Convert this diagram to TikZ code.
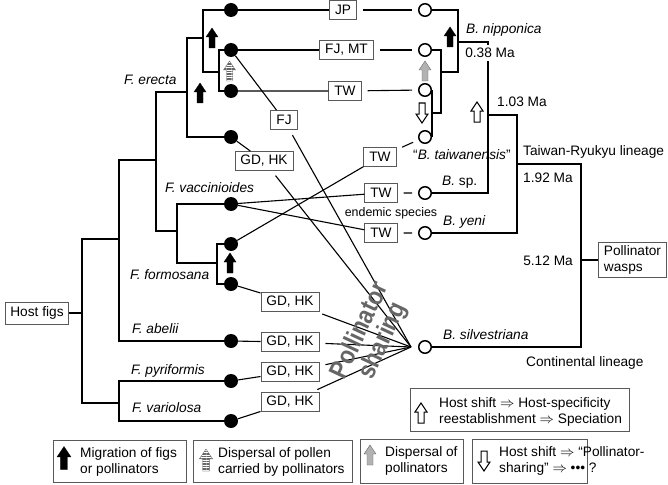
\documentclass[tikz,border=0pt]{standalone}
\usepackage{fontspec}
\setmainfont{Liberation Sans}
\usetikzlibrary{patterns.meta}
\tikzset{
  blockup/.pic={
    \path[pic actions] (0,-10) -- (6,-1) -- (3,-1) -- (3,10) -- (-3,10) -- (-3,-1) -- (-6,-1) -- cycle;
  }
}
\begin{document}
\begin{tikzpicture}[x=1pt, y=-1pt,
    font=\fontsize{13.7}{16.5}\selectfont,
    fig/.style={circle, fill=black, minimum size=14pt, inner sep=0pt},
    wasp/.style={circle, draw, line width=1.5pt, fill=white, minimum size=12.5pt, inner sep=0pt},
    tree/.style={line width=1.6pt},
    link/.style={line width=1.1pt, shorten <=6pt, shorten >=6pt},
    share/.style={line width=1.1pt, shorten <=6pt},
    code/.style={draw=black!65, line width=0.8pt, fill=white, inner xsep=5.5pt, inner ysep=0pt, minimum height=19pt},
    lab/.style={anchor=west, inner sep=0pt, text height=9.8pt, text depth=0pt},
    taxon/.style={lab, font=\fontsize{13.7}{16.5}\selectfont\itshape},
    note/.style={anchor=west, inner sep=0pt, align=left},
    legbox/.style={draw=black!65, line width=0.8pt, inner sep=0pt, anchor=north west},
    migr/.style={fill=black, draw=black},
    pollen/.style={draw=black!60, pattern={Lines[angle=0, distance=2.5pt, line width=1.1pt]}, pattern color=black!60},
    disp/.style={draw=black!60, fill=black!30},
    hshift/.style={draw=black, line width=1pt, fill=white}
  ]
  \useasboundingbox (0,0) rectangle (668,484);

  % host fig tips and pollinator tips
  \foreach \n/\y in {1/10,2/50,3/91,4/137,5/204,6/244,7/284,8/341,9/381,10/421}
    \node[fig] (t\n) at (231,\y) {};
  \foreach \n/\y in {1/10,2/50,3/90,4/137,5/193,6/233,7/347}
    \node[wasp] (p\n) at (425,\y) {};

  \node[code, minimum height=22pt, inner xsep=4.5pt] (host) at (37,313) {Host figs};
  \node[code, align=left, inner ysep=3pt, anchor=west] (wasps) at (598,260) {Pollinator\\wasps};

  % fig tree
  \coordinate (root) at (82,313);
  \coordinate (na) at (219,72);
  \coordinate (nb) at (203,38);
  \coordinate (nc) at (187,92);
  \coordinate (nd) at (156,160);
  \coordinate (nf) at (177,231);
  \coordinate (ng) at (217,263);
  \coordinate (nh) at (119,239);
  \coordinate (ni) at (119,403);
  \draw[tree] (t2) -| (na) |- (t3);
  \draw[tree] (t1) -| (nb) |- (na);
  \draw[tree] (nb) -| (nc) |- (t4);
  \draw[tree] (t6) -| (ng) |- (t7);
  \draw[tree] (t5) -| (nf) |- (ng);
  \draw[tree] (nc) -| (nd) |- (nf);
  \draw[tree] (nd) -| (nh) |- (t8);
  \draw[tree] (t9) -| (ni) |- (t10);
  \draw[tree] (nh) -| (root) |- (ni);
  \draw[tree] (host) -- (root);

  % pollinator tree
  \coordinate (qa) at (432,113);
  \coordinate (qb) at (441,72);
  \coordinate (qc) at (458,42);
  \coordinate (qd) at (488,115);
  \coordinate (qe) at (517,164);
  \coordinate (qf) at (581,260);
  \draw[tree] (p3.east) -- (p4.east);
  \draw[tree] (p2) -| (qb) |- (qa);
  \draw[tree] (p1) -| (qc) |- (qb);
  \draw[tree] (qc) -| (qd) |- (p5);
  \draw[tree] (qd) -| (qe) |- (p6);
  \draw[tree] (qe) -| (qf) |- (p7);
  \draw[tree] (qf) -- (wasps.west);

  % distribution boxes
  \node[code] (jp) at (343,10) {JP};
  \node[code] (fjmt) at (346.5,50) {FJ, MT};
  \node[code] (twa) at (345,91) {TW};
  \node[code] (fj) at (284,120) {FJ};
  \node[code] (gda) at (264,161) {GD, HK};
  \node[code] (twb) at (380,157) {TW};
  \node[code] (twc) at (381,193) {TW};
  \node[code] (twd) at (381,233) {TW};
  \node[code] (gdb) at (290,302) {GD, HK};
  \node[code] (gdc) at (290,342) {GD, HK};
  \node[code] (gdd) at (290,372) {GD, HK};
  \node[code] (gde) at (290,402) {GD, HK};
  \coordinate (conv) at (411,347);

  \draw[link] (t1) -- (jp) -- (p1);
  \draw[link] (t2) -- (fjmt) -- (p2);
  \draw[link] (t3) -- (twa) -- (p3);
  \draw[link] (t6) -- (twb) -- (p4);
  \draw[link] (t5) -- (twc) -- (p5);
  \draw[link] (t5) -- (twd) -- (p6);
  \draw[share] (t2) -- (fj) -- (conv);
  \draw[share] (t4) -- (gda) -- (conv);
  \draw[share] (t7) -- (gdb) -- (conv);
  \draw[share] (t8) -- (gdc) -- (conv);
  \draw[share] (t9) -- (gdd) -- (conv);
  \draw[share] (t10) -- (gde) -- (conv);

  \node[rotate=65, xscale=0.86, text=black!60, font=\fontsize{26}{25}\selectfont\bfseries, align=center, inner sep=0pt] (sharing) at (372,336) {Pollinator\\sharing};

  % fig labels
  \node[taxon] (erecta) at (124,80) {F. erecta};
  \node[taxon] (vacc) at (165,188) {F. vaccinioides};
  \node[taxon] (formo) at (130,275) {F. formosana};
  \node[taxon] (abel) at (132,329) {F. abelii};
  \node[taxon] (pyri) at (131,370) {F. pyriformis};
  \node[taxon] (vario) at (132,408) {F. variolosa};

  % pollinator labels
  \node[taxon] (nipp) at (466,29) {B. nipponica};
  \node[lab, anchor=center, fill=white, inner xsep=1pt, inner ysep=3pt] (agea) at (490,53) {0.38 Ma};
  \node[lab] (ageb) at (497,102) {1.03 Ma};
  \node[lab] (taiw) at (413,155) {“\textit{B. taiwanensis}”};
  \node[lab] (tryu) at (523,151) {Taiwan-Ryukyu lineage};
  \node[lab] (agec) at (523,178) {1.92 Ma};
  \node[lab] (bsp) at (442,181) {\textit{B.} sp.};
  \node[taxon] (yeni) at (443,221) {B. yeni};
  \node[taxon] (silv) at (443,335) {B. silvestriana};
  \node[lab, anchor=east] (aged) at (573,261) {5.12 Ma};
  \node[lab] (conti) at (526,362) {Continental lineage};
  \node[lab, anchor=center, font=\fontsize{12.4}{14}\selectfont] (endem) at (391,212) {endemic species};

  % event arrows
  \pic[migr] at (212,38) {blockup};
  \pic[migr] at (200,93) {blockup};
  \pic[pollen] at (229.5,71) {blockup};
  \pic[migr] at (230,263) {blockup};
  \pic[migr] at (450,37) {blockup};
  \pic[disp] at (425,71) {blockup};
  \pic[hshift, rotate=180] at (422,113) {blockup};
  \pic[hshift] at (477,112) {blockup};

  % legend
  \node[legbox, minimum width=219pt, minimum height=43pt] (lege) at (410,388) {};
  \pic[hshift] at (421,413) {blockup};
  \node[note] (legte) at (439,412) {Host shift $\Rightarrow$ Host-specificity\\reestablishment $\Rightarrow$ Speciation};

  \node[legbox, minimum width=133pt, minimum height=42pt] (lega) at (53,440) {};
  \pic[migr, scale=1.15] at (64,458) {blockup};
  \node[note] (legta) at (80,462) {Migration of figs\\or pollinators};

  \node[legbox, minimum width=159pt, minimum height=42pt] (legb) at (193,440) {};
  \pic[pollen, scale=1.1] at (206,460) {blockup};
  \node[note] (legtb) at (218,462) {Dispersal of pollen\\carried by pollinators};

  \node[legbox, minimum width=103pt, minimum height=44pt] (legc) at (360,439) {};
  \pic[disp] at (370,455) {blockup};
  \node[note] (legtc) at (385,461) {Dispersal of\\pollinators};

  \node[legbox, minimum width=115pt, minimum height=44pt] (legd) at (472,439) {};
  \pic[hshift, rotate=180] at (484,461) {blockup};
  \node[note] (legtd) at (499,461) {Host shift $\Rightarrow$ “Pollinator-\\sharing” $\Rightarrow$ ••• ?};
\end{tikzpicture}
\end{document}
